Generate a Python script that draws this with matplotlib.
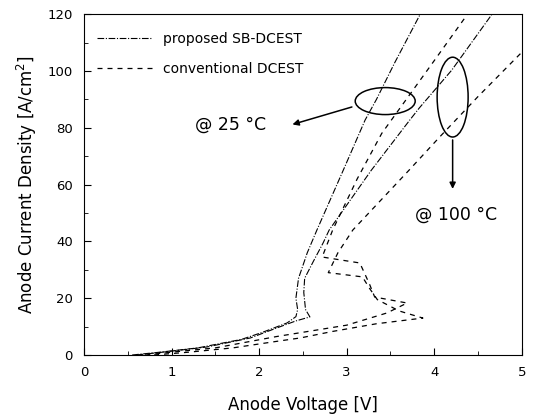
import matplotlib
matplotlib.use("Agg")
import matplotlib.pyplot as plt
from matplotlib.patches import Ellipse

plt.rcParams["font.family"] = ["DejaVu Sans"]

# proposed SB-DCEST, 25 C
a_v = [0.55, 0.87, 1.3, 1.8, 2.04, 2.32, 2.42, 2.44, 2.42, 2.45, 2.55, 2.66, 2.96, 3.21, 3.34, 3.55, 3.84]
a_j = [0, 1, 2.5, 5.5, 8, 11.3, 13.5, 16, 20, 27, 36, 44, 65, 82.7, 90, 103, 120]
# proposed SB-DCEST, 100 C
b_v = [0.6, 0.9, 1.4, 1.9, 2.2, 2.42, 2.58, 2.53, 2.51, 2.52, 2.62, 2.73, 2.80, 3.28, 3.72, 3.83, 4.20, 4.66]
b_j = [0, 1, 2.8, 6, 9.5, 12, 13.4, 16, 22, 27, 33, 39.4, 44, 65, 82.7, 87, 100.3, 120]
# conventional DCEST, 25 C
c_v = [0.7, 1.0, 1.5, 2.2, 2.5, 3.0, 3.46, 3.69, 3.32, 3.26, 3.15, 2.72, 2.84, 3.12, 3.40, 3.69, 4.02, 4.38]
c_j = [0, 1, 2.5, 6.5, 8, 10.5, 14.8, 18.3, 20.4, 25, 32.4, 34.5, 44, 62, 78, 90.4, 104.5, 120]
# conventional DCEST, 100 C
d_v = [0.8, 1.2, 1.7, 2.2, 2.47, 2.84, 3.34, 3.87, 3.6, 3.35, 3.26, 3.18, 2.79, 2.9, 3.07, 3.71, 4.06, 4.5, 5.0]
d_j = [0, 1, 2.5, 4.8, 6, 8.3, 11, 13, 15.5, 19.5, 23.5, 27.5, 29, 36, 44, 65, 76.7, 91, 106.6]

x_ticks = [0, 1, 2, 3, 4, 5]
y_ticks = [0, 20, 40, 60, 80, 100, 120]

prop_ls = (0, (6, 1.5, 1, 1.5))
conv_ls = (0, (4, 4))

fig = plt.figure(figsize=(5.33, 4.17), dpi=100)
ax = fig.add_axes([0.1576, 0.1487, 0.8214, 0.8173])

ax.plot(a_v, a_j, color="black", lw=0.8, ls=prop_ls, label="proposed SB-DCEST")
ax.plot(b_v, b_j, color="black", lw=0.8, ls=prop_ls)
ax.plot(c_v, c_j, color="black", lw=0.9, ls=conv_ls, label="conventional DCEST")
ax.plot(d_v, d_j, color="black", lw=0.9, ls=conv_ls)

ax.set_xlim(0, 5)
ax.set_ylim(0, 120)
ax.set_xticks(x_ticks)
ax.set_yticks(y_ticks)
ax.set_xticks([0.5, 1.5, 2.5, 3.5, 4.5], minor=True)
ax.set_yticks([10, 30, 50, 70, 90, 110], minor=True)
ax.tick_params(direction="in", length=5, labelsize=9.5, pad=8)
ax.tick_params(which="minor", direction="in", length=3)
ax.set_xlabel("Anode Voltage [V]", fontsize=12, labelpad=12)
ax.set_ylabel("Anode Current Density [A/cm$^2$]", fontsize=12, labelpad=6)

ax.legend(loc="upper left", frameon=False, fontsize=10, handlelength=4.0,
          labelspacing=1.15, borderaxespad=0.5, bbox_to_anchor=(0.0, 0.985))

# annotation ellipses and arrows
ax.add_patch(Ellipse((3.44, 89.4), 0.685, 9.5, fill=False, lw=1.1, color="black"))
ax.annotate("", xy=(2.35, 80.9), xytext=(3.09, 87.6),
            arrowprops=dict(arrowstyle="-|>", color="black", lw=1.1, mutation_scale=9))
ax.text(1.27, 80.9, "@ 25 °C", fontsize=12.5, va="center", ha="left")

ax.add_patch(Ellipse((4.21, 90.8), 0.354, 28.1, fill=False, lw=1.1, color="black"))
ax.annotate("", xy=(4.21, 57.5), xytext=(4.21, 76.7),
            arrowprops=dict(arrowstyle="-|>", color="black", lw=1.1, mutation_scale=9))
ax.text(3.78, 49.3, "@ 100 °C", fontsize=12.5, va="center", ha="left")

fig.savefig("out.png", dpi=100)
